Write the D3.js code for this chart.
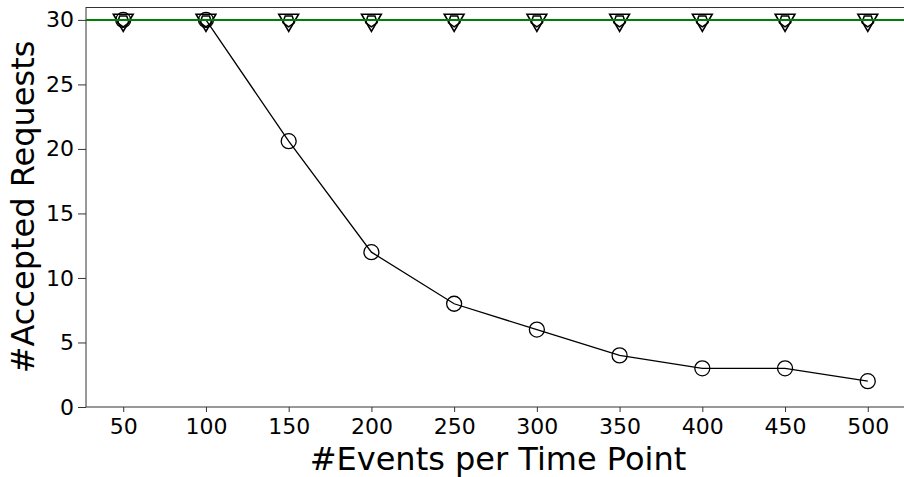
<!DOCTYPE html>
<html lang="en">
<style>
  body { margin: 0; background: #fff; }
  text { font-family: "DejaVu Sans", sans-serif; }
</style>
<body>
<script src="https://cdn.jsdelivr.net/npm/d3@7"></script>
<div id="vis"></div>
<script>
// data
var events = [50, 100, 150, 200, 250, 300, 350, 400, 450, 500];
var accepted = [30, 30, 20.6, 12, 8, 6, 4, 3, 3, 2];
var acceptedB = [30, 30, 30, 30, 30, 30, 30, 30, 30, 30];
var acceptedC = [30, 30, 30, 30, 30, 30, 30, 30, 30, 30];
var totalRequests = 30;
var yTicks = [0, 5, 10, 15, 20, 25, 30];

var W = 904, H = 477;
var svg = d3.select("#vis").append("svg")
    .attr("width", W).attr("height", H);

var x = d3.scaleLinear().domain([27.5, 522.5]).range([86, 905]);
var y = d3.scaleLinear().domain([0, 31]).range([407, 7]);

// axes
var xAxis = svg.append("g")
    .attr("transform", "translate(0,407)")
    .call(d3.axisBottom(x).tickValues(events).tickSize(5).tickPadding(6));
var yAxis = svg.append("g")
    .attr("transform", "translate(86,0)")
    .call(d3.axisLeft(y).tickValues(yTicks).tickSize(8).tickPadding(4));
[xAxis, yAxis].forEach(function(a){
  a.select(".domain").remove();
  a.selectAll("line").attr("stroke", "#333").attr("stroke-width", 1);
  a.selectAll("text").attr("font-size", "22px").attr("fill", "#000")
   .style("font-family", "DejaVu Sans");
});

// spines
svg.append("line").attr("x1", 86).attr("x2", 86).attr("y1", 7).attr("y2", 407)
   .attr("stroke", "#333");
svg.append("line").attr("x1", 86).attr("x2", 905).attr("y1", 407).attr("y2", 407)
   .attr("stroke", "#333");
svg.append("line").attr("x1", 86).attr("x2", 905).attr("y1", 7.5).attr("y2", 7.5)
   .attr("stroke", "#333");

// other series (all on top of each other at 30)
var line = d3.line().x(function(d,i){ return x(events[i]); }).y(function(d){ return y(d); });
var pentagon = function(r){
  var pts = d3.range(5).map(function(k){
    var a = -Math.PI/2 + k * 2*Math.PI/5;
    return [r*Math.cos(a), r*Math.sin(a)];
  });
  return "M" + pts.join("L") + "Z";
};
// down triangles
svg.append("path").datum(acceptedB).attr("d", line).attr("fill", "none")
   .attr("stroke", "#000").attr("stroke-width", 1.2);
svg.selectAll(".tri").data(acceptedB).enter().append("path")
   .attr("d", d3.symbol().type(d3.symbolTriangle).size(170))
   .attr("transform", function(d,i){
     return "translate(" + x(events[i]) + "," + y(d) + ") rotate(180)";
   })
   .attr("fill", "none").attr("stroke", "#000").attr("stroke-width", 1.6);
// pentagons
svg.append("path").datum(acceptedC).attr("d", line).attr("fill", "none")
   .attr("stroke", "#000").attr("stroke-width", 1.2);
svg.selectAll(".pent").data(acceptedC).enter().append("path")
   .attr("d", pentagon(6))
   .attr("transform", function(d,i){
     return "translate(" + x(events[i]) + "," + (y(d) + 1) + ") rotate(180)";
   })
   .attr("fill", "none").attr("stroke", "#000").attr("stroke-width", 1.5);

// main series
svg.append("path").datum(accepted).attr("d", line).attr("fill", "none")
   .attr("stroke", "#000").attr("stroke-width", 1.3);
svg.selectAll(".circ").data(accepted).enter().append("circle")
   .attr("cx", function(d,i){ return x(events[i]); })
   .attr("cy", function(d){ return y(d); })
   .attr("r", 7.5)
   .attr("fill", "none").attr("stroke", "#000").attr("stroke-width", 1.3);

// total requests line
svg.append("line").attr("x1", 86).attr("x2", 905)
   .attr("y1", y(totalRequests)).attr("y2", y(totalRequests))
   .attr("stroke", "green").attr("stroke-width", 2);

// labels
svg.append("text").attr("x", 498).attr("y", 470)
   .attr("text-anchor", "middle").attr("font-size", "32px")
   .text("#Events per Time Point");
svg.append("text").attr("transform", "translate(34,207) rotate(-90)")
   .attr("text-anchor", "middle").attr("font-size", "32px")
   .text("#Accepted Requests");
</script>
</body>
</html>
